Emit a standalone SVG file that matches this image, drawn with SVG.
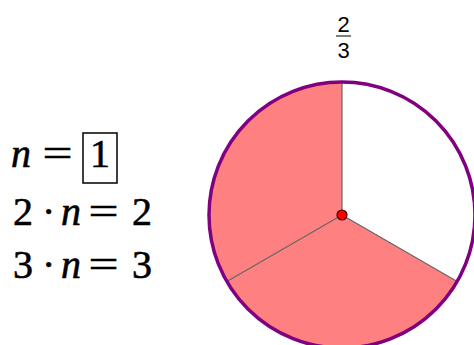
<svg xmlns="http://www.w3.org/2000/svg" width="474" height="345" viewBox="0 0 474 345">
<style>
.m{font-family:'Liberation Serif','Times New Roman',serif;font-size:40px;fill:#000;stroke:#000;stroke-width:0.6}
.i{font-style:italic}
.f{font-family:'Liberation Sans',Arial,sans-serif;font-size:22px;fill:#000;text-anchor:middle}
.rad{stroke:#666;stroke-width:1.2;fill:none}
</style>
<rect width="474" height="345" fill="#fff"/>
<g id="equations">
<text class="m" y="167"><tspan class="i" x="11">n</tspan><tspan x="90">1</tspan></text>
<text class="m" y="167" x="42.5" textLength="30" lengthAdjust="spacingAndGlyphs">=</text>
<rect x="83" y="133" width="34" height="50" fill="none" stroke="#000" stroke-width="1.5"/>
<text class="m" y="225"><tspan x="13">2</tspan><tspan x="42">·</tspan><tspan class="i" x="61">n</tspan><tspan x="132">2</tspan></text>
<text class="m" y="225" x="88.5" textLength="30" lengthAdjust="spacingAndGlyphs">=</text>
<text class="m" y="278"><tspan x="13">3</tspan><tspan x="42">·</tspan><tspan class="i" x="61">n</tspan><tspan x="132">3</tspan></text>
<text class="m" y="278" x="88.5" textLength="30" lengthAdjust="spacingAndGlyphs">=</text>
</g>
<g id="fraction">
<text class="f" x="343.5" y="32">2</text>
<line x1="336" y1="36" x2="351" y2="36" stroke="#000" stroke-width="1"/>
<text class="f" x="343.5" y="58">3</text>
</g>
<g id="pie">
<circle cx="342" cy="215" r="133" fill="#fff"/>
<path d="M342 215 L342 82 A133 133 0 1 0 457.2 281.5 Z" fill="#ff8080"/>
<g id="connectors">
<line class="rad" x1="342" y1="215" x2="342" y2="82"/>
<line class="rad" x1="342" y1="215" x2="226.8" y2="281.5"/>
<line class="rad" x1="342" y1="215" x2="457.2" y2="281.5"/>
</g>
<circle cx="342" cy="215" r="133" fill="none" stroke="#800080" stroke-width="3.5"/>
<circle cx="342" cy="215" r="5" fill="#f00" stroke="#400" stroke-width="1.2"/>
</g>
</svg>
